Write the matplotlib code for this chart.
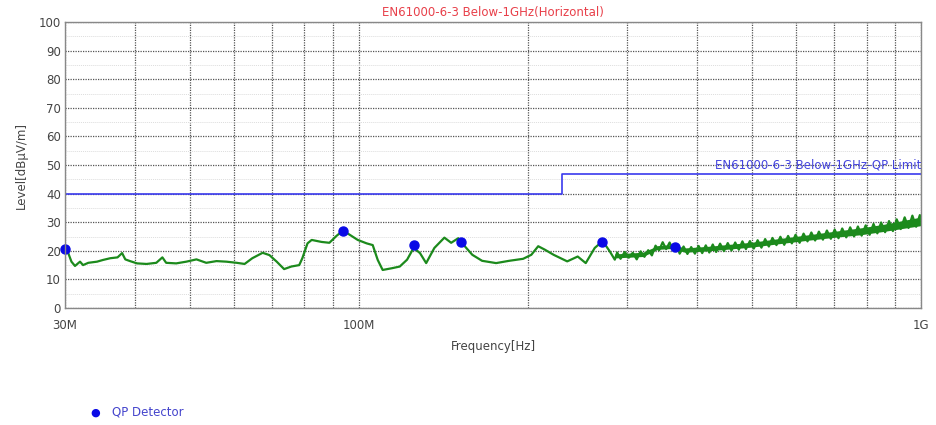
import matplotlib.pyplot as plt
from matplotlib.ticker import FixedLocator, NullFormatter

# measured trace, frequency in MHz / level in dBuV/m
trace_mhz = [30.0, 30.4, 30.8, 31.25, 31.9, 32.3, 33.0, 34.2, 35.05, 36.1,
             37.2, 37.9, 38.4, 39.15, 40.3, 41.9, 43.6, 44.7, 45.4, 47.3,
             49.3, 51.4, 53.5, 55.8, 58.1, 60.6, 62.6, 64.6, 67.4, 69.3,
             71.4, 73.6, 75.8, 78.3, 79.3, 81.0, 82.4, 85.8, 88.6, 91.2,
             93.7, 96.3, 99.5, 103.2, 105.8, 108.0, 110.2, 114.4, 118.2, 121.8,
             125.1, 128.4, 131.7, 136.2, 141.9, 145.9, 150.2, 153.3, 159.1, 165.6,
             175.4, 185.0, 195.9, 202.6, 208.4, 214.1, 222.0, 234.7, 245.0, 253.2,
             262.7, 271.4, 279.4, 285.2,
             288, 292, 297, 302, 307, 312, 317, 322, 327, 332,
             337, 342, 347, 352, 357, 362, 367, 372, 378, 384,
             390, 396, 402, 408, 414, 420, 426, 432, 439, 446,
             453, 460, 467, 474, 481, 488, 496, 504, 512, 520,
             528, 536, 544, 553, 562, 571, 580, 589, 598, 608,
             618, 628, 638, 648, 658, 669, 680, 691, 702, 713,
             724, 736, 748, 760, 772, 784, 797, 810, 823, 836,
             849, 863, 877, 891, 905, 920, 935, 950, 965, 980,
             995, 1000]
trace_db = [20.6, 19.2, 16.2, 14.7, 16.2, 15.0, 15.8, 16.2, 16.8, 17.4,
            17.7, 19.2, 17.0, 16.4, 15.6, 15.4, 15.8, 17.7, 15.8, 15.6,
            16.2, 17.0, 15.8, 16.4, 16.2, 15.8, 15.4, 17.4, 19.3, 18.5,
            16.2, 13.6, 14.5, 15.0, 17.4, 22.6, 23.8, 23.1, 22.8, 25.2,
            27.1, 25.6, 23.8, 22.6, 22.0, 16.8, 13.3, 13.9, 14.5, 16.9,
            21.0, 19.2, 15.7, 21.0, 24.6, 22.8, 24.4, 22.2, 18.6, 16.5,
            15.7, 16.5, 17.2, 18.6, 21.6, 20.4, 18.6, 16.3, 18.0, 15.7,
            21.0, 23.4, 19.8, 16.9,
            19.4, 17.2, 19.6, 17.6, 19.3, 17.0, 19.8, 17.9, 20.2, 18.4,
            21.8, 20.2, 23.0, 20.6, 22.9, 20.4, 22.3, 19.0, 21.5, 18.9,
            21.3, 19.0, 21.7, 19.2, 21.9, 19.4, 22.2, 19.6, 22.5, 19.9,
            22.7, 20.1, 22.9, 20.4, 23.3, 20.6, 23.4, 20.8, 23.7, 21.1,
            24.1, 21.5, 24.5, 22.0, 24.9, 22.1, 25.2, 22.6, 25.6, 22.8,
            26.0, 23.3, 26.4, 23.6, 26.7, 23.9, 27.1, 24.2, 27.4, 24.4,
            27.8, 24.7, 28.2, 25.0, 28.5, 25.3, 28.9, 25.6, 29.4, 26.1,
            29.9, 26.5, 30.4, 26.9, 31.0, 27.6, 31.7, 28.0, 32.3, 28.4,
            32.5, 29.6]

# solid core of the noisy part above ~285 MHz
band_mhz = [285, 320, 340, 360, 380, 420, 500, 560, 630, 700, 780, 860, 940, 1000]
band_lo = [17.5, 18.0, 20.5, 20.8, 19.5, 20.0, 21.3, 22.5, 23.7, 24.7, 25.6, 26.8, 28.0, 28.8]
band_hi = [18.9, 19.5, 21.8, 22.2, 21.0, 21.6, 23.0, 24.3, 25.6, 26.8, 28.0, 29.3, 30.8, 31.8]

# QP detector results
qp_mhz = [30.0, 93.7, 125.1, 152.0, 270.8, 365.0]
qp_db = [20.6, 27.0, 22.0, 23.0, 23.0, 21.5]

# limit line
limit_mhz = [30, 230, 230, 1000]
limit_db = [40, 40, 47, 47]

fig = plt.figure(figsize=(9.37, 4.25), dpi=100)
ax = fig.add_axes([0.0694, 0.2753, 0.9136, 0.6729])

green = "#1c8a1c"
ax.fill_between([f * 1e6 for f in band_mhz], band_lo, band_hi, color=green, lw=0)
ax.plot([f * 1e6 for f in trace_mhz], trace_db, color=green, lw=1.6)
ax.plot([f * 1e6 for f in limit_mhz], limit_db, color="#3a3aee", lw=1.2)
ax.plot([f * 1e6 for f in qp_mhz], qp_db, "o", color="#0a0ae6", ms=6.5,
        ls="none", clip_on=False)

ax.set_xscale("log")
ax.set_xlim(30e6, 1e9)
ax.set_ylim(0, 100)

ax.xaxis.set_major_locator(FixedLocator([30e6, 100e6, 1e9]))
ax.set_xticklabels(["30M", "100M", "1G"])
ax.xaxis.set_minor_locator(FixedLocator(
    [f * 1e6 for f in [40, 50, 60, 70, 80, 90, 200, 300, 400, 500, 600, 700, 800, 900]]))
ax.xaxis.set_minor_formatter(NullFormatter())
ax.set_yticks(range(0, 101, 10))
ax.set_yticks(range(5, 100, 10), minor=True)
ax.tick_params(which="both", length=0, labelsize=8.5, labelcolor="#444444")
ax.tick_params(axis="x", pad=8)
ax.tick_params(axis="y", pad=3)

ax.grid(which="major", color="#555555", ls=(0, (1, 1)), lw=0.9)
ax.grid(which="minor", axis="x", color="#555555", ls=(0, (1, 1)), lw=0.9)
ax.grid(which="minor", axis="y", color="#dddddd", ls=(0, (1, 1)), lw=0.7)
ax.set_axisbelow(True)
for s in ax.spines.values():
    s.set_color("#888888")
    s.set_linewidth(1.0)

ax.set_title("EN61000-6-3 Below-1GHz(Horizontal)", color="#e8404a", fontsize=8.5, pad=4)
ax.set_xlabel("Frequency[Hz]", color="#444444", fontsize=8.5, labelpad=6)
ax.set_ylabel("Level[dB\u00b5V/m]", color="#444444", fontsize=8.5, labelpad=8)

ax.text(1e9, 47.8, "EN61000-6-3 Below-1GHz-QP Limit", color="#4444dd",
        fontsize=8.5, ha="right", va="bottom")

# legend below the chart
fig.text(0.1015, 0.03, "\u25cf", color="#0a0ae6", fontsize=8, va="center", ha="center")
fig.text(0.119, 0.03, "QP Detector", color="#4444cc", fontsize=8.5, va="center")

fig.savefig("out.png", dpi=100)
